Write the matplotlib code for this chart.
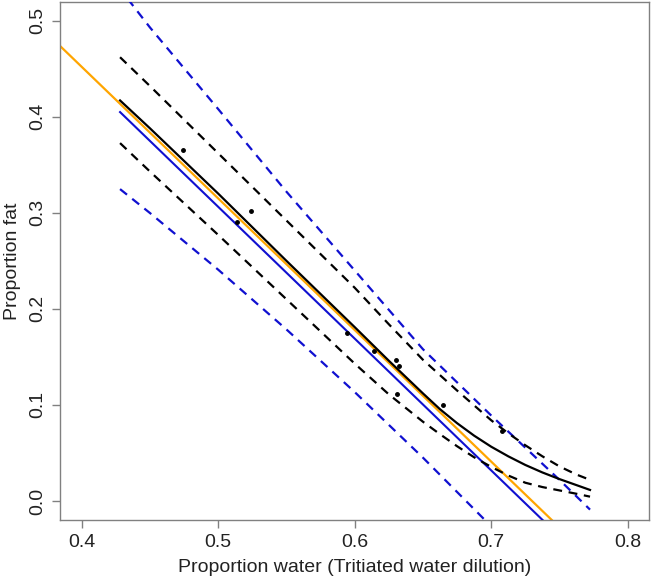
import matplotlib
matplotlib.use("Agg")
import matplotlib.pyplot as plt

plt.rcParams['font.family'] = ['Liberation Sans', 'DejaVu Sans']

# observed points
water = [0.4744, 0.5136, 0.5238, 0.5941, 0.6144, 0.6303, 0.6327, 0.6308, 0.6645, 0.7077]
fat = [0.3656, 0.2900, 0.3024, 0.1747, 0.1563, 0.1469, 0.1410, 0.1116, 0.0997, 0.0732]

# smooth fit (black) and its confidence band
curve_x = [0.4281, 0.45, 0.50, 0.55, 0.60, 0.625, 0.65, 0.6625, 0.675, 0.6875,
           0.70, 0.7125, 0.725, 0.7375, 0.75, 0.7625, 0.7724]
curve_fit = [0.417, 0.388, 0.320, 0.250, 0.181, 0.146, 0.112, 0.0955, 0.081, 0.068,
             0.0565, 0.0465, 0.0375, 0.0297, 0.0228, 0.0165, 0.0115]
curve_upper = [0.462, 0.432, 0.362, 0.292, 0.222, 0.184, 0.147, 0.131, 0.115, 0.0995,
               0.084, 0.0705, 0.058, 0.0465, 0.036, 0.0275, 0.022]
curve_lower = [0.3726, 0.343, 0.277, 0.210, 0.143, 0.111, 0.0825, 0.0695, 0.057, 0.0455,
               0.0355, 0.0265, 0.019, 0.0145, 0.011, 0.0075, 0.0045]

# linear fit (blue) and prediction band
lin_x = [0.4281, 0.7724]
lin_fit = [0.4049, -0.0675]
band_x = [0.4281, 0.45, 0.50, 0.55, 0.60, 0.65, 0.70, 0.75, 0.7724]
band_upper = [0.533, 0.493, 0.408, 0.322, 0.240, 0.158, 0.089, 0.022, -0.009]
band_lower = [0.3247, 0.2998, 0.2408, 0.1786, 0.1134, 0.0451, -0.0264, -0.1009, -0.135]

# reference line (orange): fat = intercept + slope * water
ref_intercept = 1.0
ref_slope = -1.37

x_ticks = [0.4, 0.5, 0.6, 0.7, 0.8]
y_ticks = [0.0, 0.1, 0.2, 0.3, 0.4, 0.5]

fig = plt.figure(figsize=(6.51, 5.78), dpi=100)
ax = fig.add_axes([60/651, 1-520/578, (649-60)/651, (520-2)/578])

dash = (4, 3)
ax.axline((0, ref_intercept), slope=ref_slope, color='#FFA500', lw=1.6, zorder=2)
ax.plot(lin_x, lin_fit, color='#1010D0', lw=1.5, zorder=3)
ax.plot(band_x, band_upper, color='#1010D0', lw=1.6, dashes=dash, zorder=3)
ax.plot(band_x, band_lower, color='#1010D0', lw=1.6, dashes=dash, zorder=3)
ax.plot(curve_x, curve_fit, color='black', lw=1.6, zorder=4)
ax.plot(curve_x, curve_upper, color='black', lw=1.6, dashes=dash, zorder=4)
ax.plot(curve_x, curve_lower, color='black', lw=1.6, dashes=dash, zorder=4)
ax.plot(water, fat, 'o', color='black', ms=2.5, zorder=5)

ax.set_xlim(0.3841, 0.8156)
ax.set_ylim(-0.0198, 0.5195)
ax.set_xticks(x_ticks)
ax.set_yticks(y_ticks)
ax.set_xticklabels([f"{v:.1f}" for v in x_ticks])
ax.set_yticklabels([f"{v:.1f}" for v in y_ticks], rotation=90, va='center')

for s in ax.spines.values():
    s.set_color('#808080')
    s.set_linewidth(1.0)
ax.tick_params(direction='out', length=6, width=1.0, color='#808080',
               labelsize=14, labelcolor='#222222', pad=4)

ax.set_xlabel('Proportion water (Tritiated water dilution)', fontsize=14, color='#222222', labelpad=6)
ax.set_ylabel('Proportion fat', fontsize=14, color='#222222', labelpad=6)

fig.savefig('out.png', dpi=100)
